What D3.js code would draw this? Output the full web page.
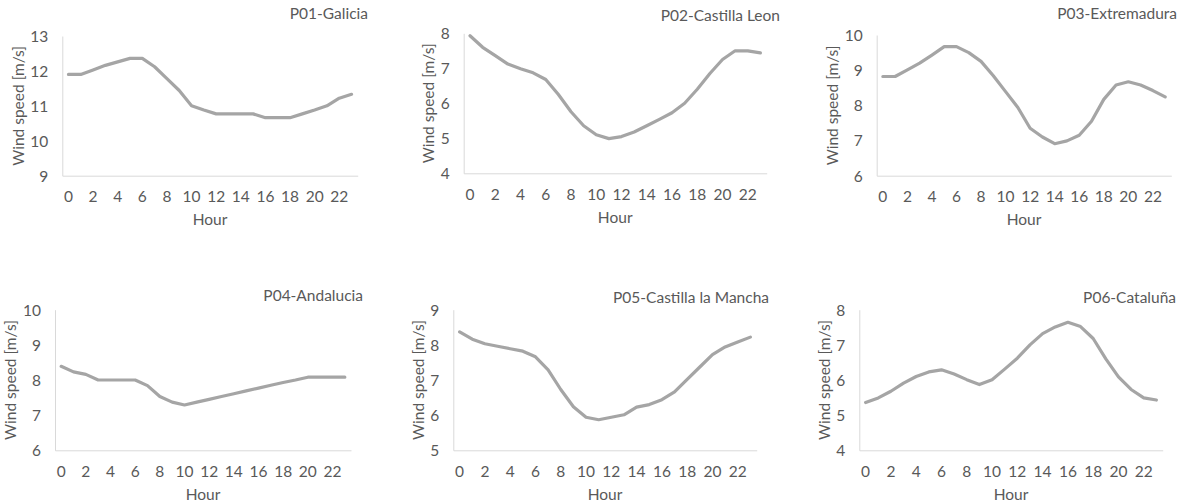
<!DOCTYPE html>
<html>
<head>
<meta charset="utf-8">
<script src="https://cdn.jsdelivr.net/npm/d3@7"></script>
<style>
  html, body { margin: 0; padding: 0; background: #ffffff; }
  svg { display: block; }
  text { font-family: Lato, "Open Sans", "Liberation Sans", sans-serif; fill: #595959; }
</style>
</head>
<body>
<svg id="chart" width="1184" height="503"></svg>
<script>
// Hourly mean wind speed by region
const hours = [0, 1, 2, 3, 4, 5, 6, 7, 8, 9, 10, 11, 12, 13, 14, 15, 16, 17, 18, 19, 20, 21, 22, 23];
const hourTicks = [0, 2, 4, 6, 8, 10, 12, 14, 16, 18, 20, 22];

const galicia = [11.9, 11.9, 12.03, 12.16, 12.26, 12.36, 12.36, 12.12, 11.78, 11.44, 11.0, 10.88, 10.77, 10.77, 10.77, 10.77, 10.66, 10.66, 10.66, 10.77, 10.88, 11.0, 11.22, 11.33];
const castillaLeon = [7.93, 7.6, 7.36, 7.12, 6.99, 6.87, 6.68, 6.25, 5.76, 5.36, 5.1, 4.99, 5.05, 5.18, 5.36, 5.54, 5.73, 6.0, 6.4, 6.85, 7.25, 7.5, 7.5, 7.44];
const extremadura = [8.82, 8.82, 9.01, 9.2, 9.43, 9.67, 9.67, 9.5, 9.25, 8.84, 8.39, 7.94, 7.35, 7.1, 6.91, 6.99, 7.15, 7.55, 8.17, 8.58, 8.67, 8.58, 8.42, 8.24];
const andalucia = [8.39, 8.23, 8.16, 8.0, 8.0, 8.0, 8.0, 7.84, 7.53, 7.37, 7.29, 7.37, 7.45, 7.53, 7.61, 7.69, 7.77, 7.85, 7.93, 8.0, 8.08, 8.08, 8.08, 8.08];
const castillaMancha = [8.37, 8.16, 8.03, 7.96, 7.89, 7.82, 7.66, 7.29, 6.73, 6.24, 5.94, 5.87, 5.94, 6.01, 6.23, 6.3, 6.44, 6.66, 7.02, 7.37, 7.72, 7.94, 8.08, 8.22];
const cataluna = [5.36, 5.49, 5.68, 5.91, 6.1, 6.23, 6.29, 6.17, 6.01, 5.87, 6.01, 6.31, 6.62, 7.0, 7.32, 7.51, 7.64, 7.52, 7.18, 6.6, 6.09, 5.73, 5.49, 5.43];

const panelTitles = ["P01-Galicia", "P02-Castilla Leon", "P03-Extremadura", "P04-Andalucia", "P05-Castilla la Mancha", "P06-Cataluña"];
const panelSeries = [galicia, castillaLeon, extremadura, andalucia, castillaMancha, cataluna];
const yTicksGalicia = [9, 10, 11, 12, 13];
const yTicksCastillaLeon = [4, 5, 6, 7, 8];
const yTicksExtremadura = [6, 7, 8, 9, 10];
const yTicksAndalucia = [6, 7, 8, 9, 10];
const yTicksCastillaMancha = [5, 6, 7, 8, 9];
const yTicksCataluna = [4, 5, 6, 7, 8];
const panelYTicks = [yTicksGalicia, yTicksCastillaLeon, yTicksExtremadura, yTicksAndalucia, yTicksCastillaMancha, yTicksCataluna];

const xTitle = "Hour";
const yTitle = "Wind speed [m/s]";

// Plot-area frames of the six small multiples
const frames = [
  { left: 62.3,  right: 357.7,  top: 36,    bottom: 175.7, titleX: 368,  titleY: 14 },
  { left: 463.7, right: 766.7,  top: 33.3,  bottom: 173.3, titleX: 780,  titleY: 16 },
  { left: 876.7, right: 1171.3, top: 35,    bottom: 175.7, titleX: 1177, titleY: 13.5 },
  { left: 55,    right: 351,    top: 309.7, bottom: 450.3, titleX: 363,  titleY: 296 },
  { left: 453.3, right: 756.7,  top: 309.7, bottom: 450.3, titleX: 769,  titleY: 298 },
  { left: 859.3, right: 1162.7, top: 309.7, bottom: 450.3, titleX: 1176, titleY: 298 }
];

const fontSize = "15.5px";
const svg = d3.select("#chart");
const axisColor = "#d9d9d9";
const lineColor = "#a5a5a5";

frames.forEach((f, i) => {
  const values = panelSeries[i];
  const ticks = panelYTicks[i];

  const x = d3.scaleBand().domain(hours).range([f.left, f.right]);
  const y = d3.scaleLinear().domain(d3.extent(ticks)).range([f.bottom, f.top]);
  const cx = h => x(h) + x.bandwidth() / 2;

  const g = svg.append("g");

  // value axis
  const yAxis = g.append("g")
    .attr("transform", `translate(${f.left},0)`)
    .call(d3.axisLeft(y).tickValues(ticks).tickSize(0).tickSizeOuter(0).tickFormat(d3.format("d")));
  yAxis.attr("font-family", null).attr("font-size", null);
  yAxis.select(".domain").attr("stroke", axisColor).attr("stroke-width", 1);
  yAxis.selectAll("text")
    .attr("x", -14).attr("dy", "0.35em")
    .style("font-size", fontSize).attr("fill", "#595959");

  // category axis
  const xAxis = g.append("g")
    .attr("transform", `translate(0,${f.bottom})`)
    .call(d3.axisBottom(x).tickValues(hourTicks).tickSize(0).tickSizeOuter(0));
  xAxis.attr("font-family", null).attr("font-size", null);
  xAxis.select(".domain").attr("stroke", axisColor).attr("stroke-width", 1);
  xAxis.selectAll("text")
    .attr("y", 21).attr("dy", "0.35em")
    .style("font-size", fontSize).attr("fill", "#595959");

  // axis titles: value title sits just outside the widest tick label
  let maxW = 0;
  yAxis.selectAll("text").each(function () { maxW = Math.max(maxW, this.getBBox().width); });
  const ytx = f.left - 14 - maxW - 12;
  const yty = (f.top + f.bottom) / 2;
  g.append("text")
    .attr("transform", `translate(${ytx},${yty}) rotate(-90)`)
    .attr("text-anchor", "middle").attr("dy", "0.35em")
    .style("font-size", fontSize)
    .text(yTitle);

  g.append("text")
    .attr("x", (f.left + f.right) / 2).attr("y", f.bottom + 44)
    .attr("text-anchor", "middle").attr("dy", "0.35em")
    .style("font-size", fontSize)
    .text(xTitle);

  // panel title
  g.append("text")
    .attr("x", f.titleX).attr("y", f.titleY)
    .attr("text-anchor", "end").attr("dy", "0.35em")
    .style("font-size", fontSize)
    .text(panelTitles[i]);

  // wind speed line
  const line = d3.line().x((d, j) => cx(hours[j])).y(d => y(d));
  g.append("path")
    .datum(values)
    .attr("d", line)
    .attr("fill", "none")
    .attr("stroke", lineColor)
    .attr("stroke-width", 3.2)
    .attr("stroke-linejoin", "round")
    .attr("stroke-linecap", "round");
});
</script>
</body>
</html>
